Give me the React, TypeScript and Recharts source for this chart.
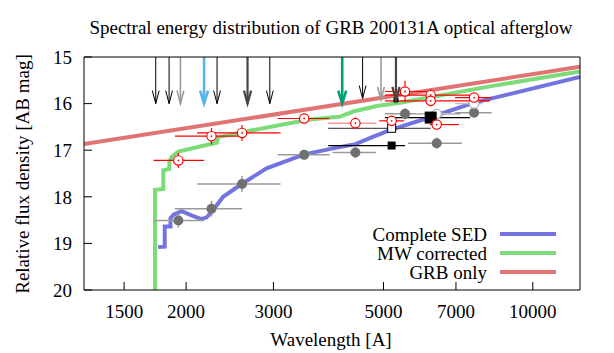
import { ComposedChart, Line, Scatter, XAxis, YAxis, ErrorBar, ReferenceLine } from 'recharts';

const FONT = '"Liberation Serif", "DejaVu Serif", serif';

const xTicks = [1500, 2000, 3000, 5000, 7000, 10000];
const yTicks = [15, 16, 17, 18, 19, 20];

// model curves: wavelength [A] vs AB mag
const grbLambda = [1245, 12450];
const grbMag = [16.87, 15.21];

const mwLambda = [1731, 1731, 1799, 1799, 1850, 1850, 1871, 1929, 2133, 2305, 2323, 2609, 3093, 3555, 4086, 4346, 4846, 5398, 8198, 12450];
const mwMag = [20.1, 17.85, 17.83, 17.43, 17.4, 17.25, 17.14, 17.03, 16.92, 16.84, 16.72, 16.61, 16.46, 16.34, 16.28, 16.17, 16.05, 15.98, 15.63, 15.31];

const sedLambda = [1756, 1811, 1811, 1860, 1860, 1890, 1960, 2050, 2148, 2200, 2250, 2375, 2593, 2906, 3460, 3958, 4389, 4800, 5152, 5397, 6401, 7613, 12450];
const sedMag = [19.08, 19.07, 18.64, 18.64, 18.46, 18.38, 18.31, 18.4, 18.48, 18.44, 18.33, 18.0, 17.72, 17.39, 17.09, 16.96, 16.87, 16.7, 16.57, 16.5, 16.25, 15.98, 15.43];

// corrected photometry (red open circles)
const redLambda = [1929, 2250, 2593, 3460, 5526, 6225, 6225, 7613, 5193, 6401];
const redMag = [17.22, 16.7, 16.63, 16.32, 15.74, 15.82, 15.94, 15.87, 16.37, 16.45];
const redLo = [1719, 1899, 2104, 3060, 5033, 5033, 5033, 6970, 4900, 6200];
const redHi = [2174, 2594, 3100, 3891, 6100, 7473, 8200, 8265, 5500, 7100];
const redErr = [0.16, 0.18, 0.17, 0.1, 0.23, 0.12, 0.12, 0.09, 0.1, 0.1];

// corrected photometry with pale bars
const paleLambda = [4389];
const paleMag = [16.42];
const paleLo = [3868];
const paleHi = [4842];
const paleErr = [0.14];

// observed photometry (grey filled circles)
const obsLambda = [1929, 2250, 2593, 3460, 4389, 5526, 6401, 7613];
const obsMag = [18.51, 18.255, 17.725, 17.1, 17.05, 16.22, 16.85, 16.195];
const obsLo = [1719, 1899, 2104, 3060, 3948, 5033, 5600, 6970];
const obsHi = [2174, 2594, 3100, 3891, 4827, 7150, 7190, 8265];
const obsErr = [0.15, 0.17, 0.17, 0.1, 0.12, 0.12, 0.12, 0.1];

// open grey circles
const openLambda = [7613, 6401];
const openMag = [16.0, 16.22];
const openLo = [6970, 5800];
const openHi = [7900, 7000];

// filled squares
const sqLambda = [5193, 6225, 5298];
const sqMag = [16.9, 16.3, 15.92];
const sqLo = [3868, 5033, 5298];
const sqHi = [5526, 7473, 5298];
const sqKind = ['small', 'large', 'tiny'];

// open squares
const osqLambda = [5193];
const osqMag = [16.53];
const osqLo = [3868];
const osqHi = [6225];

// upper limits
const limLambda = [1737, 1848, 1948, 2174, 2309, 2660, 2950, 4128, 4538, 4942, 5298];
const limMag = [16.0, 16.0, 16.0, 16.0, 16.0, 16.0, 16.0, 16.0, 15.89, 15.92, 15.92];
const limKind = ['black', 'black', 'grey', 'blue', 'black', 'dark', 'black', 'green', 'black', 'grey', 'dark'];

const legendNames = ['Complete SED', 'MW corrected', 'GRB only'];

const limStyle: Record<string, { color: string; width: number; head: number }> = {
  black: { color: '#000000', width: 1, head: 3.4 },
  grey: { color: '#9a9a9a', width: 1.6, head: 3.4 },
  blue: { color: '#56b4e9', width: 2.6, head: 4 },
  green: { color: '#009e73', width: 2.6, head: 4 },
  dark: { color: '#454545', width: 2.2, head: 3.6 },
};

const lineColors = ['#7474e0', '#7ddc7a', '#e07474'];

const toLine = (xs: number[], ys: number[]) => xs.map((x, i) => ({ x, y: ys[i] }));
const toPts = (xs: number[], ys: number[], lo: number[], hi: number[], err?: number[]) =>
  xs.map((x, i) => ({ x, y: ys[i], ex: [x - lo[i], hi[i] - x], ey: err ? err[i] : 0 }));

const grbData = toLine(grbLambda, grbMag);
const mwData = toLine(mwLambda, mwMag);
const sedData = toLine(sedLambda, sedMag);
const redData = toPts(redLambda, redMag, redLo, redHi, redErr);
const paleData = toPts(paleLambda, paleMag, paleLo, paleHi, paleErr);
const obsData = toPts(obsLambda, obsMag, obsLo, obsHi, obsErr);
const openData = toPts(openLambda, openMag, openLo, openHi);
const sqData = toPts(sqLambda, sqMag, sqLo, sqHi).map((d, i) => ({ ...d, kind: sqKind[i] }));
const osqData = toPts(osqLambda, osqMag, osqLo, osqHi);
const limData = limLambda.map((x, i) => ({ x, y: limMag[i], kind: limKind[i] }));

const RingDot = (p: any) => {
  if (p.cx == null || p.cy == null) return <g />;
  return (
    <g>
      <circle cx={p.cx} cy={p.cy} r={4.7} fill="#fff" stroke="#ff0000" strokeWidth={1.2} />
      <circle cx={p.cx} cy={p.cy} r={0.9} fill="#ff0000" />
    </g>
  );
};

const GreyDot = (p: any) =>
  p.cx == null ? <g /> : <circle cx={p.cx} cy={p.cy} r={5} fill="#707070" />;

const OpenDot = (p: any) =>
  p.cx == null ? <g /> : <circle cx={p.cx} cy={p.cy} r={4.7} fill="#fff" stroke="#b0b0b0" strokeWidth={1.2} />;

const Square = (p: any) => {
  if (p.cx == null) return <g />;
  const h = p.payload.kind === 'large' ? 6 : p.payload.kind === 'small' ? 4 : 2.5;
  return <rect x={p.cx - h} y={p.cy - h} width={2 * h} height={2 * h} fill="#000" />;
};

const OpenSquare = (p: any) =>
  p.cx == null ? <g /> : <rect x={p.cx - 4} y={p.cy - 4} width={8} height={8} fill="#fff" stroke="#000" strokeWidth={1} />;

const ArrowHead = (p: any) => {
  if (p.cx == null) return <g />;
  const s = limStyle[p.payload.kind];
  return (
    <polyline
      points={`${p.cx - s.head},${p.cy - 13} ${p.cx},${p.cy} ${p.cx + s.head},${p.cy - 13}`}
      fill="none"
      stroke={s.color}
      strokeWidth={s.width}
    />
  );
};

const XTick = (p: any) => (
  <text x={p.x} y={p.y} dy="0.71em" textAnchor="middle" fill="#000" style={{ fontFamily: FONT, fontSize: 19 }}>
    {p.payload.value}
  </text>
);

const YTick = (p: any) => (
  <text x={p.x} y={p.y} dy="0.355em" textAnchor="end" fill="#000" style={{ fontFamily: FONT, fontSize: 19 }}>
    {p.payload.value}
  </text>
);

const textStyle = { position: 'absolute' as const, fontSize: 19, whiteSpace: 'nowrap' as const, lineHeight: 1, fontFamily: FONT };

export default function App() {
  return (
    <div style={{ position: 'absolute', left: 0, top: 0, width: 614, height: 353, background: '#fff', fontFamily: FONT }}>
      <ComposedChart width={614} height={353} margin={{ top: 56, right: 33, bottom: 18, left: 0 }}>
        <XAxis dataKey="x" type="number" scale="log" domain={[1245, 12450]} allowDataOverflow ticks={xTicks}
          interval={0} tickSize={-8} tickMargin={23} height={45} stroke="#000" tick={XTick} />
        <XAxis xAxisId="top" orientation="top" type="number" scale="log" domain={[1245, 12450]} allowDataOverflow
          ticks={xTicks} interval={0} tickSize={-8} height={1} tick={false} stroke="#000" />
        <YAxis type="number" domain={[15, 20]} reversed allowDataOverflow ticks={yTicks} interval={0}
          tickSize={-8} tickMargin={20} width={84} stroke="#000" tick={YTick} />
        <YAxis yAxisId="right" orientation="right" type="number" domain={[15, 20]} reversed allowDataOverflow
          ticks={yTicks} interval={0} tickSize={-8} width={1} tick={false} stroke="#000" />

        {limData.map((d, i) => (
          <ReferenceLine key={i} segment={[{ x: d.x, y: 15 }, { x: d.x, y: d.y }]}
            stroke={limStyle[d.kind].color} strokeWidth={limStyle[d.kind].width} />
        ))}

        <Line data={mwData} dataKey="y" type="linear" stroke={lineColors[1]} strokeWidth={4} dot={false} isAnimationActive={false} />
        <Line data={sedData} dataKey="y" type="linear" stroke={lineColors[0]} strokeWidth={4} dot={false} isAnimationActive={false} />
        <Line data={grbData} dataKey="y" type="linear" stroke={lineColors[2]} strokeWidth={4} dot={false} isAnimationActive={false} />

        <Scatter data={obsData} dataKey="y" shape={GreyDot} isAnimationActive={false}>
          <ErrorBar dataKey="ex" direction="x" width={0} stroke="#9a9a9a" strokeWidth={1.5} />
          <ErrorBar dataKey="ey" direction="y" width={0} stroke="#9a9a9a" strokeWidth={1.5} />
        </Scatter>
        <Scatter data={openData} dataKey="y" shape={OpenDot} isAnimationActive={false}>
          <ErrorBar dataKey="ex" direction="x" width={0} stroke="#bdbdbd" strokeWidth={1.5} />
        </Scatter>
        <Scatter data={osqData} dataKey="y" shape={OpenSquare} isAnimationActive={false}>
          <ErrorBar dataKey="ex" direction="x" width={0} stroke="#555" strokeWidth={1.2} />
        </Scatter>
        <Scatter data={sqData} dataKey="y" shape={Square} isAnimationActive={false}>
          <ErrorBar dataKey="ex" direction="x" width={0} stroke="#000" strokeWidth={1.2} />
        </Scatter>
        <Scatter data={paleData} dataKey="y" shape={RingDot} isAnimationActive={false}>
          <ErrorBar dataKey="ex" direction="x" width={0} stroke="#ff9a9a" strokeWidth={1.5} />
          <ErrorBar dataKey="ey" direction="y" width={0} stroke="#ff9a9a" strokeWidth={1.5} />
        </Scatter>
        <Scatter data={redData} dataKey="y" shape={RingDot} isAnimationActive={false}>
          <ErrorBar dataKey="ex" direction="x" width={0} stroke="#ff0000" strokeWidth={1.2} />
          <ErrorBar dataKey="ey" direction="y" width={0} stroke="#ff0000" strokeWidth={1.2} />
        </Scatter>
        <Scatter data={limData} dataKey="y" shape={ArrowHead} isAnimationActive={false} />
      </ComposedChart>

      <div style={{ ...textStyle, left: 331, top: 27, transform: 'translate(-50%, -50%)' }}>
        Spectral energy distribution of GRB 200131A optical afterglow
      </div>
      <div style={{ ...textStyle, left: 331, top: 339, transform: 'translate(-50%, -50%)' }}>
        Wavelength [A]
      </div>
      <div style={{ ...textStyle, left: 22, top: 174, transform: 'translate(-50%, -50%) rotate(-90deg)' }}>
        Relative flux density [AB mag]
      </div>
      {legendNames.map((name, i) => (
        <div key={name} style={{ position: 'absolute', left: 300, top: 234 + i * 19, width: 487 - 300, height: 0 }}>
          <span style={{ ...textStyle, right: 0, top: 0, transform: 'translateY(-50%)' }}>{name}</span>
          <span style={{ position: 'absolute', left: 500 - 300, top: -2, width: 56, height: 4, background: lineColors[i] }} />
        </div>
      ))}
    </div>
  );
}
